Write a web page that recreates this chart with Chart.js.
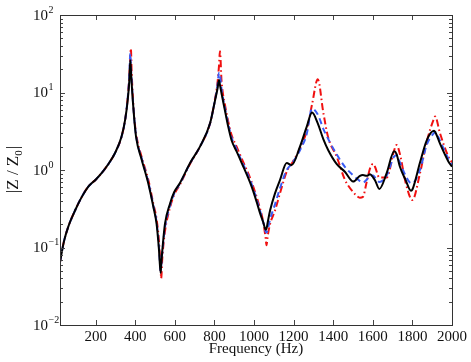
<!DOCTYPE html>
<html>
<head>
<meta charset="utf-8">
<script src="https://cdn.jsdelivr.net/npm/chart.js@4.4.0/dist/chart.umd.min.js"></script>
<style>
html, body { margin: 0; padding: 0; background: #fff; }
</style>
</head>
<body>
<canvas id="impChart" width="471" height="362"></canvas>
<script>
// frequency grid (Hz), shared by the three curves
const freqs = [20, 40, 62, 96, 130, 163, 200, 230, 260, 298, 331, 350, 362, 370, 375, 378, 382, 394, 404, 433,
  466, 491, 508, 520, 528, 531, 537, 550, 576, 597, 626, 677, 727, 778, 803, 815, 823, 828, 836, 853,
  870, 887, 912, 938, 988, 1013, 1030, 1047, 1059, 1063, 1069, 1081, 1106, 1131, 1165, 1190, 1232, 1266, 1293, 1322,
  1350, 1375, 1417, 1459, 1501, 1535, 1550, 1569, 1586, 1602, 1611, 1633, 1670, 1708, 1720, 1737, 1765, 1793, 1800, 1838,
  1872, 1909, 1915, 1939, 1981, 2000];

// |Z/Z0| solid black
const zBlack = [0.065, 0.12, 0.186, 0.30, 0.45, 0.61, 0.75, 0.91, 1.15, 1.66, 2.7, 4.6, 8, 14, 26, 20, 13, 4.9, 2.7, 1.35,
  0.67, 0.34, 0.2, 0.093, 0.047, 0.06, 0.093, 0.2, 0.37, 0.52, 0.68, 1.23, 2.0, 4.0, 7.9, 11, 14.5, 12.5, 9.7, 5.9,
  3.6, 2.4, 1.74, 1.23, 0.61, 0.39, 0.28, 0.21, 0.17, 0.175, 0.21, 0.30, 0.50, 0.74, 1.23, 1.16, 2.0, 3.6, 5.5, 4.0,
  2.5, 1.8, 1.2, 0.95, 0.71, 0.84, 0.86, 0.84, 0.88, 0.8, 0.74, 0.57, 0.91, 1.74, 1.6, 1.1, 0.75, 0.54, 0.56, 1.24,
  2.4, 3.2, 3.1, 2.2, 1.3, 1.1];

// blue dashed
const zBlue = [0.065, 0.12, 0.186, 0.30, 0.45, 0.61, 0.75, 0.91, 1.15, 1.66, 2.7, 4.6, 8.5, 16, 32, 22, 14, 5, 2.8, 1.4,
  0.7, 0.35, 0.21, 0.1, 0.05, 0.058, 0.088, 0.18, 0.35, 0.5, 0.67, 1.22, 2.0, 4.0, 8, 12, 18, 17, 11, 6.3,
  3.9, 2.6, 1.85, 1.3, 0.66, 0.42, 0.3, 0.21, 0.16, 0.155, 0.17, 0.23, 0.36, 0.58, 1.0, 1.2, 1.8, 2.9, 6.2, 5.2,
  3.4, 2.5, 1.6, 1.1, 0.85, 0.72, 0.69, 0.75, 0.85, 0.85, 0.8, 0.7, 0.85, 1.5, 1.55, 1.25, 0.85, 0.68, 0.68, 1.0,
  2.1, 3.0, 3.1, 2.4, 1.4, 1.15];

// red dash-dot
const zRed = [0.065, 0.12, 0.186, 0.30, 0.45, 0.61, 0.75, 0.91, 1.15, 1.66, 2.7, 4.6, 8.5, 16, 30, 37, 18, 5.2, 3.0, 1.45,
  0.75, 0.37, 0.23, 0.12, 0.055, 0.04, 0.075, 0.16, 0.33, 0.48, 0.65, 1.2, 2.0, 4.0, 8.2, 13, 22, 34, 14, 7,
  4.2, 2.8, 2.0, 1.4, 0.7, 0.45, 0.32, 0.21, 0.13, 0.107, 0.14, 0.2, 0.3, 0.5, 0.95, 1.2, 1.9, 3.2, 7, 14.8,
  5.5, 2.6, 1.5, 0.75, 0.52, 0.44, 0.45, 0.7, 1.05, 1.2, 1.1, 0.8, 0.8, 1.8, 2.1, 1.6, 0.7, 0.42, 0.41, 0.9,
  2.3, 4.6, 4.9, 3.0, 1.5, 1.25];

const xTicks = [200, 400, 600, 800, 1000, 1200, 1400, 1600, 1800, 2000];
const yDecades = [-2, -1, 0, 1, 2];

const serif = '"Liberation Serif", "DejaVu Serif", serif';

function pts(vals) {
  return freqs.map((f, i) => ({ x: f, y: vals[i] }));
}

const framePlugin = {
  id: 'frame',
  afterDraw(chart) {
    const ctx = chart.ctx;
    const a = chart.chartArea;
    const x = chart.scales.x;
    const y = chart.scales.y;
    ctx.save();
    ctx.strokeStyle = '#444';
    ctx.lineWidth = 1;
    // inward ticks, bottom and top
    xTicks.forEach(t => {
      const px = Math.round(x.getPixelForValue(t)) + 0.5;
      ctx.beginPath();
      ctx.moveTo(px, a.bottom); ctx.lineTo(px, a.bottom - 5);
      ctx.moveTo(px, a.top); ctx.lineTo(px, a.top + 5);
      ctx.stroke();
    });
    // log ticks left and right
    for (let d = -2; d <= 2; d++) {
      for (let m = 1; m <= 9; m++) {
        if (d === 2 && m > 1) break;
        const py = Math.round(y.getPixelForValue(m * Math.pow(10, d))) + 0.5;
        const len = m === 1 ? 5 : 3;
        ctx.beginPath();
        ctx.moveTo(a.left, py); ctx.lineTo(a.left + len, py);
        ctx.moveTo(a.right, py); ctx.lineTo(a.right - len, py);
        ctx.stroke();
      }
    }
    // box
    ctx.strokeStyle = '#333';
    ctx.strokeRect(Math.round(a.left) + 0.5, Math.round(a.top) + 0.5,
      Math.round(a.right - a.left), Math.round(a.bottom - a.top));

    ctx.fillStyle = '#111';

    // x tick labels
    ctx.font = '15px ' + serif;
    ctx.textAlign = 'center';
    ctx.textBaseline = 'alphabetic';
    xTicks.forEach(t => {
      ctx.fillText(String(t), x.getPixelForValue(t), a.bottom + 16);
    });
    // x title
    ctx.fillText('Frequency (Hz)', (a.left + a.right) / 2, a.bottom + 28);

    // y tick labels 10^k
    ctx.textBaseline = 'middle';
    ctx.textAlign = 'left';
    yDecades.forEach(d => {
      const py = y.getPixelForValue(Math.pow(10, d));
      ctx.font = '15px ' + serif;
      ctx.fillText('10', 33, py + 1);
      const w = ctx.measureText('10').width;
      ctx.font = '10px ' + serif;
      ctx.fillText(d < 0 ? '\u2212' + (-d) : String(d), 33 + w + 0.5, py - 5);
    });

    // y title |Z / Z0|
    ctx.save();
    ctx.translate(18, (a.top + a.bottom) / 2);
    ctx.rotate(-Math.PI / 2);
    ctx.textBaseline = 'alphabetic';
    ctx.font = '17px ' + serif;
    const p1 = '|Z / Z';
    const w1 = ctx.measureText(p1).width;
    ctx.font = '11px ' + serif;
    const w0 = ctx.measureText('0').width;
    ctx.font = '17px ' + serif;
    const w2 = ctx.measureText('|').width;
    const sx = -(w1 + w0 + w2) / 2;
    ctx.fillText(p1, sx, 0);
    ctx.font = '11px ' + serif;
    ctx.fillText('0', sx + w1, 4);
    ctx.font = '17px ' + serif;
    ctx.fillText('|', sx + w1 + w0 + 1, 0);
    ctx.restore();

    ctx.restore();
  }
};

new Chart(document.getElementById('impChart'), {
  type: 'line',
  data: {
    datasets: [
      { label: 'black', data: pts(zBlack), borderColor: '#000', borderWidth: 2 },
      { label: 'blue', data: pts(zBlue), borderColor: '#3a5cf5', borderWidth: 2, borderDash: [6, 4] },
      { label: 'red', data: pts(zRed), borderColor: '#f01010', borderWidth: 2, borderDash: [7, 3, 1.5, 3] }
    ]
  },
  options: {
    responsive: false,
    animation: false,
    devicePixelRatio: 1,
    layout: { padding: { left: 0, right: 19, top: 15, bottom: 0 } },
    elements: {
      point: { radius: 0 },
      line: { cubicInterpolationMode: 'monotone', fill: false }
    },
    plugins: {
      legend: { display: false },
      tooltip: { enabled: false }
    },
    scales: {
      x: {
        type: 'linear',
        min: 20,
        max: 2000,
        grid: { display: false },
        border: { display: false },
        ticks: { display: false },
        afterFit(s) { s.height = 37; }
      },
      y: {
        type: 'logarithmic',
        min: 0.01,
        max: 100,
        grid: { display: false },
        border: { display: false },
        ticks: { display: false },
        afterFit(s) { s.width = 60; }
      }
    }
  },
  plugins: [framePlugin]
});
</script>
</body>
</html>
